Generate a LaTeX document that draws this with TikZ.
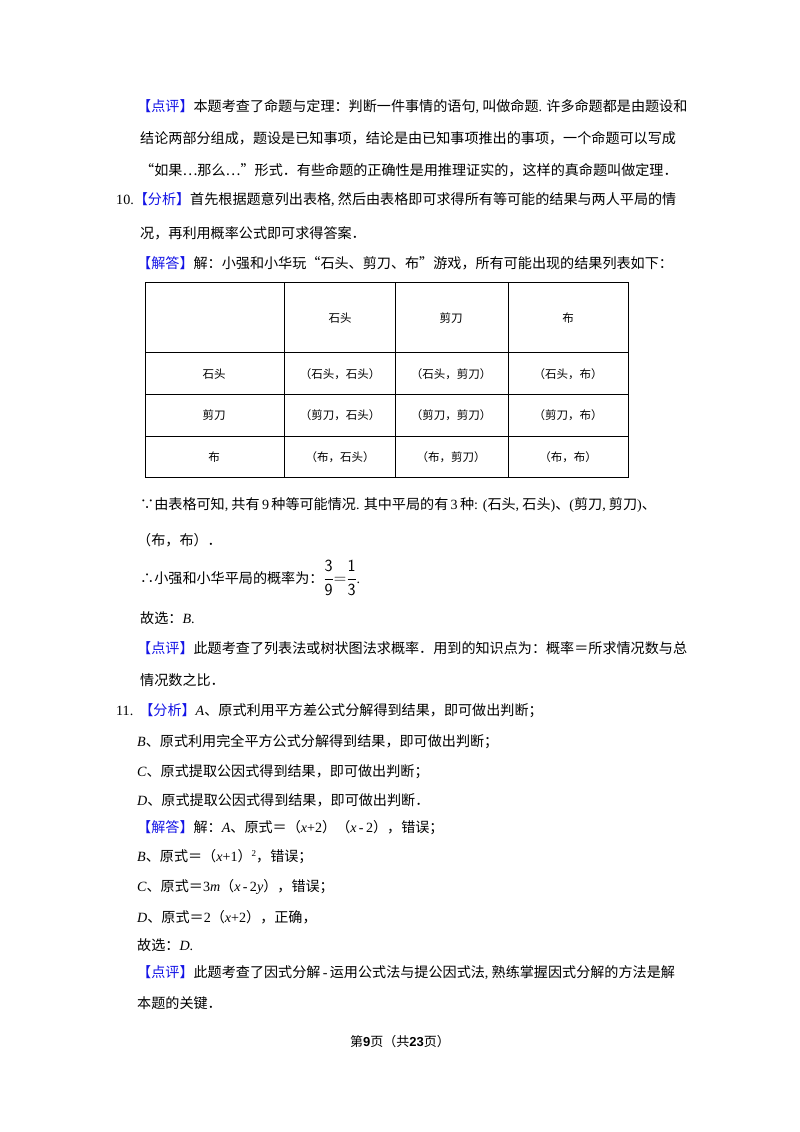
\documentclass[tikz,border=0pt]{standalone}
\usepackage{fontspec}
\setmainfont{Noto Sans CJK SC}
\newfontfamily\ls{Liberation Serif}
\newfontfamily\lsans{Liberation Sans}
\newcommand{\Li}[1]{{\ls #1}}
\newcommand{\Lit}[1]{{\ls\itshape #1}}
\definecolor{hb}{RGB}{20,20,230}
\newcommand{\tg}[1]{{\color{hb}【#1】}}
\begin{document}
\begin{tikzpicture}[x=1pt,y=-1pt,
  tx/.style={anchor=west,inner sep=0pt,font=\fontsize{14.1}{15}\selectfont},
  cell/.style={inner sep=0pt,font=\fontsize{11.5}{12}\selectfont}]
\useasboundingbox[fill=white] (0,0) rectangle (800,1132);
\node[tx] (l1) at (137,107) {\tg{点评}本题考查了命题与定理：判断一件事情的语句\Li{,} 叫做命题\Li{.} 许多命题都是由题设和};
\node[tx] (l2) at (140,138) {结论两部分组成，题设是已知事项，结论是由已知事项推出的事项，一个命题可以写成};
\node[tx] (l3) at (140,170) {“如果⋯那么⋯”形式．有些命题的正确性是用推理证实的，这样的真命题叫做定理．};
\node[tx] (l4) at (116,200) {\Li{10.}\tg{分析}首先根据题意列出表格\Li{,} 然后由表格即可求得所有等可能的结果与两人平局的情};
\node[tx] (l5) at (140,233) {况，再利用概率公式即可求得答案．};
\node[tx] (l6) at (137,263) {\tg{解答}解：小强和小华玩“石头、剪刀、布”游戏，所有可能出现的结果列表如下：};
% table
\draw[line width=0.9pt] (145,282) rectangle (628,477);
\foreach \x in {284,395,508} \draw[line width=0.9pt] (\x,282) -- (\x,477);
\foreach \y in {352,394,436} \draw[line width=0.9pt] (145,\y) -- (628,\y);
\node[cell] (h1) at (340,318) {石头};
\node[cell] (h2) at (451,318) {剪刀};
\node[cell] (h3) at (568,318) {布};
\node[cell] (r1) at (214,374) {石头};
\node[cell] (r2) at (214,415) {剪刀};
\node[cell] (r3) at (214,457) {布};
\node[cell] (c11) at (340,374) {（石头，石头）};
\node[cell] (c12) at (451,374) {（石头，剪刀）};
\node[cell] (c13) at (568,374) {（石头，布）};
\node[cell] (c21) at (340,415) {（剪刀，石头）};
\node[cell] (c22) at (451,415) {（剪刀，剪刀）};
\node[cell] (c23) at (568,415) {（剪刀，布）};
\node[cell] (c31) at (340,457) {（布，石头）};
\node[cell] (c32) at (451,457) {（布，剪刀）};
\node[cell] (c33) at (568,457) {（布，布）};
\node[tx] (m1) at (140,505) {∵由表格可知\Li{,} 共有\,\Li{9}\,种等可能情况\Li{.} 其中平局的有\,\Li{3}\,种\Li{: (}石头\Li{,} 石头\Li{)}、\Li{(}剪刀\Li{,} 剪刀\Li{)}、};
\node[tx] (m2) at (137,540) {（布，布）．};
\node[tx] (m3) at (140,578) {∴小强和小华平局的概率为：{\fontsize{17}{17}\selectfont$\displaystyle\mathsf{\frac{3}{9}{=}\frac{1}{3}}$}\Li{.}};
\node[tx] (m4) at (140,618) {故选：\Lit{B}\Li{.}};
\node[tx] (m5) at (137,648) {\tg{点评}此题考查了列表法或树状图法求概率．用到的知识点为：概率＝所求情况数与总};
\node[tx] (m6) at (140,680) {情况数之比．};
\node[tx] (n1) at (116,711) {\Li{11.}\hspace{6pt}\tg{分析}\Lit{A}、原式利用平方差公式分解得到结果，即可做出判断；};
\node[tx] (n2) at (137,742) {\Lit{B}、原式利用完全平方公式分解得到结果，即可做出判断；};
\node[tx] (n3) at (137,772) {\Lit{C}、原式提取公因式得到结果，即可做出判断；};
\node[tx] (n4) at (137,800) {\Lit{D}、原式提取公因式得到结果，即可做出判断．};
\node[tx] (n5) at (137,828) {\tg{解答}解：\Lit{A}、原式＝（\Lit{x}\Li{+2}）（\Lit{x}\Li{\,-\,2}），错误；};
\node[tx] (n6) at (137,857) {\Lit{B}、原式＝（\Lit{x}\Li{+1}）\raisebox{5pt}{\Li{\fontsize{9}{9}\selectfont 2}}，错误；};
\node[tx] (n7) at (137,887) {\Lit{C}、原式＝\Li{3}\Lit{m}（\Lit{x}\Li{\,-\,2}\Lit{y}），错误；};
\node[tx] (n8) at (137,917) {\Lit{D}、原式＝\Li{2}（\Lit{x}\Li{+2}），正确，};
\node[tx] (n9) at (137,945) {故选：\Lit{D}\Li{.}};
\node[tx] (n10) at (137,973) {\tg{点评}此题考查了因式分解\Li{\,-\,}运用公式法与提公因式法\Li{,} 熟练掌握因式分解的方法是解};
\node[tx] (n11) at (137,1003) {本题的关键．};
\node[inner sep=0pt,font=\fontsize{13}{13}\selectfont] (ft) at (400,1042) {第{\lsans\bfseries 9}页（共{\lsans\bfseries 23}页）};
\end{tikzpicture}
\end{document}
